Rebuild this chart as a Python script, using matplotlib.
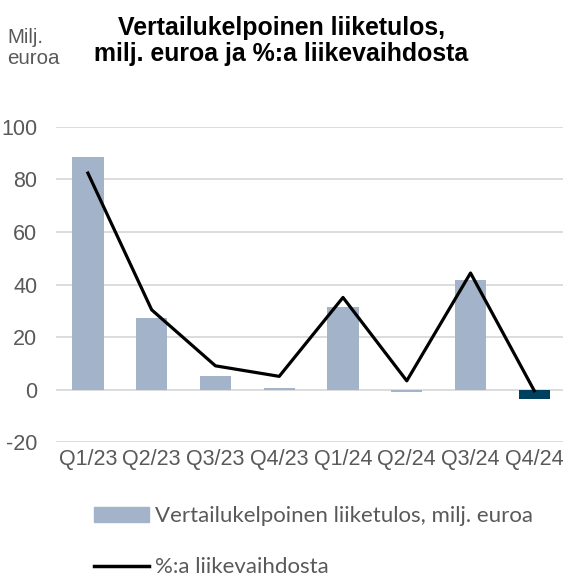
import numpy as np
import matplotlib.pyplot as plt
from matplotlib.patches import Patch
from matplotlib.lines import Line2D

quarters = ["Q1/23", "Q2/23", "Q3/23", "Q4/23", "Q1/24", "Q2/24", "Q3/24", "Q4/24"]
liiketulos = [88.5, 27.2, 5.3, 0.8, 31.4, -0.7, 41.7, -3.5]
pct_liikevaihdosta = [82.4, 30.4, 9.1, 5.1, 35.1, 3.4, 44.4, -0.4]

bar_col = "#a3b3c9"
last_col = "#00405f"
grey = "#595959"

plt.rcParams['font.family'] = ['Liberation Sans', 'DejaVu Sans']
plt.rcParams['axes.unicode_minus'] = False

fig = plt.figure(figsize=(5.63, 5.79), dpi=100)
ax = fig.add_axes([0.0995, 0.236, 0.9005, 0.545])

x = np.arange(len(quarters))
colors = [bar_col] * (len(quarters) - 1) + [last_col]
ax.bar(x, liiketulos, width=0.49, color=colors, zorder=2)
ax.plot(x, pct_liikevaihdosta, color="black", lw=2.3, zorder=3)

ax.set_ylim(-20, 100)
ax.set_xlim(-0.5, 7.45)
ax.set_yticks([-20, 0, 20, 40, 60, 80, 100])
ax.set_xticks(x)
ax.set_xticklabels(quarters)
ax.yaxis.grid(True, color="#d9d9d9", lw=1.3, zorder=0)
ax.set_axisbelow(True)
for s in ax.spines.values():
    s.set_visible(False)
ax.tick_params(length=0, labelsize=15.5, colors=grey, pad=5)
ax.tick_params(axis='y', pad=13.5)

fig.text(0.5, 0.972, "Vertailukelpoinen liiketulos,\nmilj. euroa ja %:a liikevaihdosta",
         ha="center", va="top", fontsize=17.9, fontweight="bold", linespacing=1.1)
fig.text(0.013, 0.951, "Milj.\neuroa", ha="left", va="top", fontsize=14.8,
         color=grey, linespacing=1.1)

handles = [Patch(color=bar_col), Line2D([0], [0], color="black", lw=2.5)]
labels = ["Vertailukelpoinen liiketulos, milj. euroa", "%:a liikevaihdosta"]
fig.legend(handles, labels, loc="upper left", bbox_to_anchor=(0.132, 0.16),
           frameon=False, handlelength=2.45, handletextpad=0.3, labelspacing=1.4,
           prop={'family': ['Lato', 'DejaVu Sans'], 'size': 16}, labelcolor=grey)

fig.savefig("out.png", dpi=100)
